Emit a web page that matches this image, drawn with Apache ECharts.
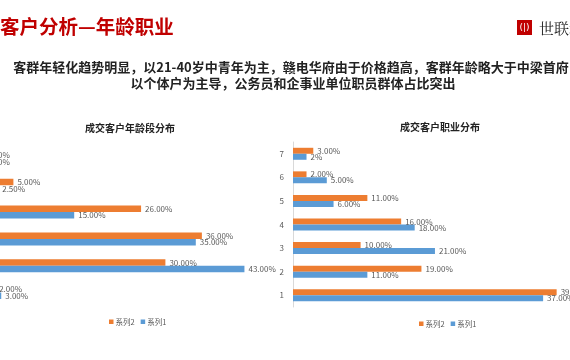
<!DOCTYPE html>
<html>
<head>
<meta charset="utf-8">
<script src="https://cdn.jsdelivr.net/npm/echarts@6/dist/echarts.min.js"></script>
<style>
html,body{margin:0;padding:0;background:#fff;}
#c{width:570px;height:360px;}
</style>
</head>
<body>
<div id="c"></div>
<script>
// Age chart (left)
const ageCategories = ['1', '2', '3', '4', '5', '6'];
const ageSeries1 = [3, 43, 35, 15, 2.5, 0];
const ageSeries2 = [2, 30, 36, 26, 5, 0];
// Occupation chart (right)
const jobCategories = ['1', '2', '3', '4', '5', '6', '7'];
const jobSeries1 = [37, 11, 21, 18, 6, 5, 2];
const jobSeries2 = [39, 19, 10, 16, 11, 2, 3];
const seriesNames = ['系列1', '系列2'];
const legendOrder = ['系列2', '系列1'];

const FONT = '"Noto Sans CJK SC", "Noto Sans", sans-serif';
const BLUE = '#5B9BD5';
const ORANGE = '#ED7D31';
const LABEL = '#595959';

const pct = p => p.value.toFixed(2) + '%';

function barSeries(name, data, color, axisIdx, bw, specialFmt) {
  return {
    type: 'bar', name: name,
    xAxisIndex: axisIdx, yAxisIndex: axisIdx,
    data: data.map((v, i) => (specialFmt && specialFmt[i]) ? { value: v, label: { formatter: specialFmt[i] } } : v),
    barWidth: bw, barGap: '0%',
    itemStyle: { color: color },
    label: { show: true, position: 'right', distance: 4, fontSize: 8, color: LABEL, fontFamily: FONT, formatter: pct },
    animation: false
  };
}

const legendText = { fontSize: 7.5, color: LABEL, fontFamily: FONT, padding: [0, 0, 0, -3] };

const chart = echarts.init(document.getElementById('c'), null, { renderer: 'canvas' });
chart.setOption({
  backgroundColor: '#fff',
  animation: false,
  textStyle: { fontFamily: FONT },
  grid: [
    { left: -17, top: 145, width: 304, height: 161, containLabel: false, outerBoundsMode: 'none' },
    { left: 293, top: 142, width: 338, height: 165, containLabel: false, outerBoundsMode: 'none' }
  ],
  xAxis: [
    { gridIndex: 0, type: 'value', min: 0, max: 50, show: false },
    { gridIndex: 1, type: 'value', min: 0, max: 50, show: false }
  ],
  yAxis: [
    { gridIndex: 0, type: 'category', data: ageCategories, axisTick: { show: false },
      axisLine: { lineStyle: { color: '#d9d9d9' } }, axisLabel: { fontSize: 8, color: LABEL } },
    { gridIndex: 1, type: 'category', data: jobCategories, axisTick: { show: false },
      axisLine: { lineStyle: { color: '#d9d9d9' } }, axisLabel: { fontSize: 8, color: LABEL, margin: 9 } }
  ],
  legend: [
    { data: legendOrder, left: 104, top: 313, icon: 'rect', itemWidth: 4.5, itemHeight: 4.5, itemGap: 6,
      textStyle: legendText },
    { data: legendOrder, left: 414, top: 315, icon: 'rect', itemWidth: 4.5, itemHeight: 4.5, itemGap: 6,
      textStyle: legendText }
  ],
  series: [
    barSeries(seriesNames[1], ageSeries2, ORANGE, 0, 6.5),
    barSeries(seriesNames[0], ageSeries1, BLUE, 0, 6.5),
    barSeries(seriesNames[1], jobSeries2, ORANGE, 1, 6),
    barSeries(seriesNames[0], jobSeries1, BLUE, 1, 6, { 6: '2%' })
  ],
  graphic: [
    { type: 'text', left: 0, top: 17, style: { text: '客户分析—年龄职业', fontSize: 19.5, fontWeight: 'bold', fill: '#C00000', fontFamily: FONT } },
    { type: 'rect', shape: { x: 517, y: 20, width: 15, height: 15 }, style: { fill: '#C00000' } },
    { type: 'text', x: 524.5, y: 27.5, style: { text: '(|)', fontSize: 9, fill: '#fff', align: 'center', verticalAlign: 'middle', fontFamily: 'DejaVu Sans' } },
    { type: 'text', x: 539, y: 28, style: { text: '世联地产', fontSize: 15, fill: '#222', verticalAlign: 'middle', fontFamily: '"Noto Serif CJK SC", "Noto Sans CJK SC", serif' } },
    { type: 'text', x: 291, y: 67, style: { text: '客群年轻化趋势明显，以21-40岁中青年为主，赣电华府由于价格趋高，客群年龄略大于中梁首府', fontSize: 13, fontWeight: 'bold', fill: '#222', align: 'center', verticalAlign: 'middle', fontFamily: FONT } },
    { type: 'text', x: 293, y: 83, style: { text: '以个体户为主导，公务员和企事业单位职员群体占比突出', fontSize: 13, fontWeight: 'bold', fill: '#222', align: 'center', verticalAlign: 'middle', fontFamily: FONT } },
    { type: 'text', x: 130, y: 128, style: { text: '成交客户年龄段分布', fontSize: 10, fontWeight: 'bold', fill: '#222', align: 'center', verticalAlign: 'middle', fontFamily: FONT } },
    { type: 'text', x: 440, y: 127, style: { text: '成交客户职业分布', fontSize: 10, fontWeight: 'bold', fill: '#222', align: 'center', verticalAlign: 'middle', fontFamily: FONT } }
  ]
});
</script>
</body>
</html>
